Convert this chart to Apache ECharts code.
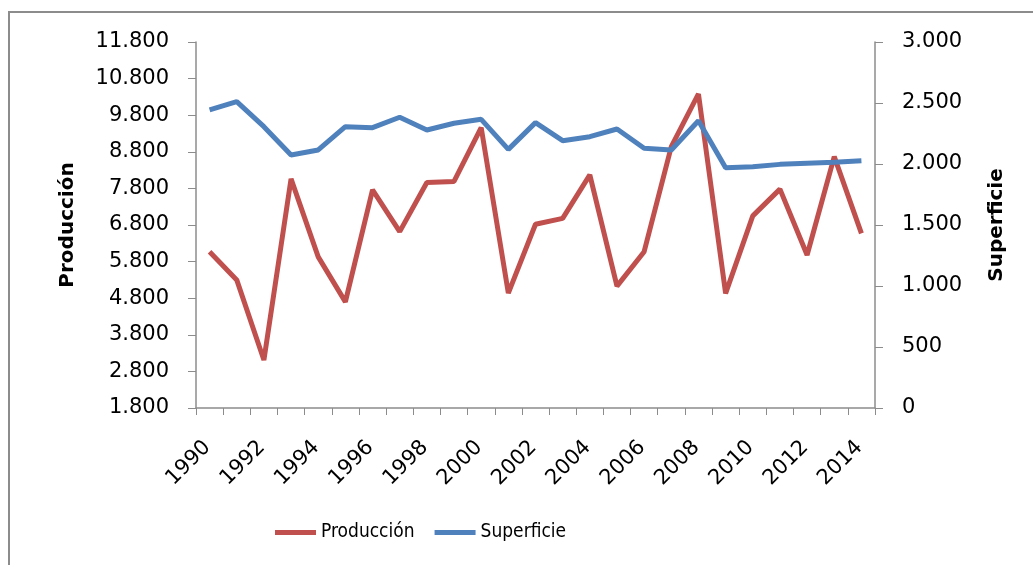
<!DOCTYPE html>
<html>
<head>
<meta charset="utf-8">
<script src="https://cdn.jsdelivr.net/npm/echarts@6/dist/echarts.min.js"></script>
<style>
  html, body { margin: 0; padding: 0; background: #fff; overflow: hidden; }
  #frame {
    position: absolute;
    left: 8px;
    top: 11px;
    width: 1100px;
    height: 600px;
    border-left: 2px solid #8c8c8c;
    border-top: 2px solid #8c8c8c;
  }
  #chart {
    position: absolute;
    left: 0;
    top: 0;
    width: 1033px;
    height: 565px;
  }
</style>
</head>
<body>
<div id="frame"></div>
<div id="chart"></div>
<script>
  const years = ['1990', '1991', '1992', '1993', '1994', '1995', '1996', '1997', '1998', '1999',
    '2000', '2001', '2002', '2003', '2004', '2005', '2006', '2007', '2008', '2009',
    '2010', '2011', '2012', '2013', '2014']
  const produccion = [6070, 5300, 3110, 8060, 5930, 4700, 7760, 6620, 7960, 7990,
    9460, 4940, 6820, 6980, 8170, 5130, 6070, 8940, 10380, 4930,
    7050, 7780, 5980, 8670, 6570]
  const superficie = [2443, 2511, 2306, 2074, 2115, 2306, 2298, 2383, 2279, 2334,
    2366, 2120, 2339, 2191, 2224, 2287, 2129, 2115, 2355, 1970,
    1978, 1997, 2006, 2014, 2027]

  // miles con punto: 11800 -> 11.800
  const fmt = (v) => String(v).replace(/\B(?=(\d{3})+(?!\d))/g, '.')
  const font = 'DejaVu Sans'
  const narrow = "'DejaVu Sans Condensed', 'Liberation Sans'"

  let chart = echarts.init(document.getElementById('chart'))
  let option = {
    animation: false,
    textStyle: { fontFamily: font },
    legend: {
      bottom: 18,
      left: 270,
      itemWidth: 41,
      itemHeight: 5,
      itemGap: 20,
      icon: 'rect',
      textStyle: { fontSize: 19, color: '#000', fontFamily: narrow },
      data: ['Producción', 'Superficie'],
    },
    grid: {
      left: 196,
      right: 158,
      top: 42,
      bottom: 157,
      containLabel: false,
    },
    xAxis: {
      type: 'category',
      data: years,
      boundaryGap: true,
      axisLine: { lineStyle: { color: '#8c8c8c', width: 1.5 } },
      axisTick: { show: true, interval: 0, length: 7, lineStyle: { color: '#8c8c8c' } },
      axisLabel: {
        interval: 1,
        rotate: 45,
        fontSize: 21,
        color: '#000',
        margin: 34,
        padding: [0, 3, 0, 0],
      },
    },
    yAxis: [
      {
        type: 'value',
        name: 'Producción',
        nameLocation: 'middle',
        nameRotate: 90,
        nameGap: 118,
        nameTextStyle: { fontSize: 20, fontWeight: 'bold', color: '#000' },
        min: 1800,
        max: 11800,
        interval: 1000,
        axisLine: { show: true, lineStyle: { color: '#8c8c8c', width: 1.5 } },
        axisTick: { show: true, length: 8, lineStyle: { color: '#8c8c8c' } },
        splitLine: { show: false },
        axisLabel: { fontSize: 21, color: '#000', margin: 27, formatter: fmt },
      },
      {
        type: 'value',
        name: 'Superficie',
        nameLocation: 'middle',
        nameRotate: 90,
        nameGap: 112,
        nameTextStyle: { fontSize: 20, fontWeight: 'bold', color: '#000' },
        min: 0,
        max: 3000,
        interval: 500,
        position: 'right',
        axisLine: { show: true, lineStyle: { color: '#8c8c8c', width: 1.5 } },
        axisTick: { show: true, length: 8, lineStyle: { color: '#8c8c8c' } },
        splitLine: { show: false },
        axisLabel: { fontSize: 21, color: '#000', margin: 27, formatter: fmt },
      },
    ],
    series: [
      {
        name: 'Producción',
        type: 'line',
        yAxisIndex: 0,
        data: produccion,
        symbol: 'none',
        lineStyle: { color: '#C0504D', width: 5 },
        itemStyle: { color: '#C0504D' },
      },
      {
        name: 'Superficie',
        type: 'line',
        yAxisIndex: 1,
        data: superficie,
        symbol: 'none',
        lineStyle: { color: '#4F81BD', width: 5 },
        itemStyle: { color: '#4F81BD' },
      },
    ],
  }
  chart.setOption(option)
</script>
</body>
</html>
